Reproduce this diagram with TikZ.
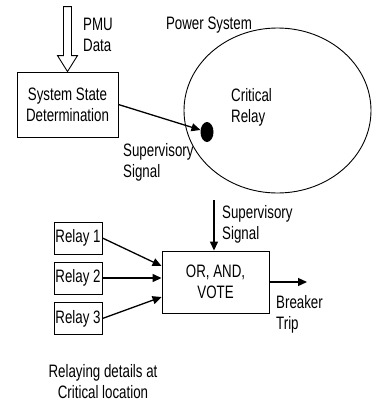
\documentclass[tikz,border=0pt]{standalone}
\usepackage{fontspec}
\setmainfont[FakeStretch=0.74]{Liberation Sans}
\usetikzlibrary{arrows.meta,shapes.geometric}

\tikzset{
  blockbox/.style={draw, line width=0.9pt, align=center, inner sep=1pt},
  txt/.style={align=left, anchor=west, inner sep=0pt},
  sig/.style={line width=1.3pt, arrows=-{Triangle[length=9pt,width=8pt]}}
}

\begin{document}
\begin{tikzpicture}[x=1pt,y=-1pt,font=\fontsize{18}{21}\selectfont]
        \useasboundingbox (0,0) rectangle (372,402);

        % upper part
        \node[blockbox, minimum width=101pt, minimum height=65pt] (ssd) at (67.5,104.5) {System State\\Determination};
        \draw[line width=0.9pt, shift={(ssd.north)}] (-4,-65) -- (4,-65) -- (4,-16) -- (10,-16) -- (0,0) -- (-10,-16) -- (-4,-16) -- cycle;
        \node[txt] (pmu) at (83,35) {PMU\\Data};

        \node[draw, ellipse, line width=0.9pt, minimum width=187pt, minimum height=165pt, inner sep=0pt] (psys) at (277.5,110.5) {};
        \node (pstxt) at (209,25) {Power System};
        \node[txt] (crit) at (231,107) {Critical\\Relay};
        \node[fill, ellipse, minimum width=13pt, minimum height=20pt, inner sep=0pt] (dot) at (207,132) {};
        \draw[sig] (ssd.east) -- (dot);
        \node[txt] (sup1) at (123,162) {Supervisory\\Signal};

        % lower part
        \foreach \i/\y in {1/238, 2/278, 3/318.5}
            \node[blockbox, minimum width=48pt, minimum height=32pt] (r\i) at (78,\y) {Relay \i};

        \node[blockbox, minimum width=107pt, minimum height=62pt] (vote) at (215.5,282) {OR, AND,\\VOTE};

        \draw[sig] (r1.east) -- ([yshift=16pt]vote.west);
        \draw[sig] (r2.east) -- (r2.east -| vote.west);
        \draw[sig] (r3.east) -- ([yshift=-15pt]vote.west);

        \coordinate (supin) at (214,200);
        \draw[sig] (supin) -- (supin |- vote.north);
        \node[txt] (sup2) at (222,224.5) {Supervisory\\Signal};

        \coordinate (trip) at (307,282);
        \draw[sig] (vote.east) -- (trip);
        \node[txt] (brk) at (276,314) {Breaker\\Trip};

        \node[align=center] (note) at (103,382) {Relaying details at\\Critical location};
\end{tikzpicture}
\end{document}
